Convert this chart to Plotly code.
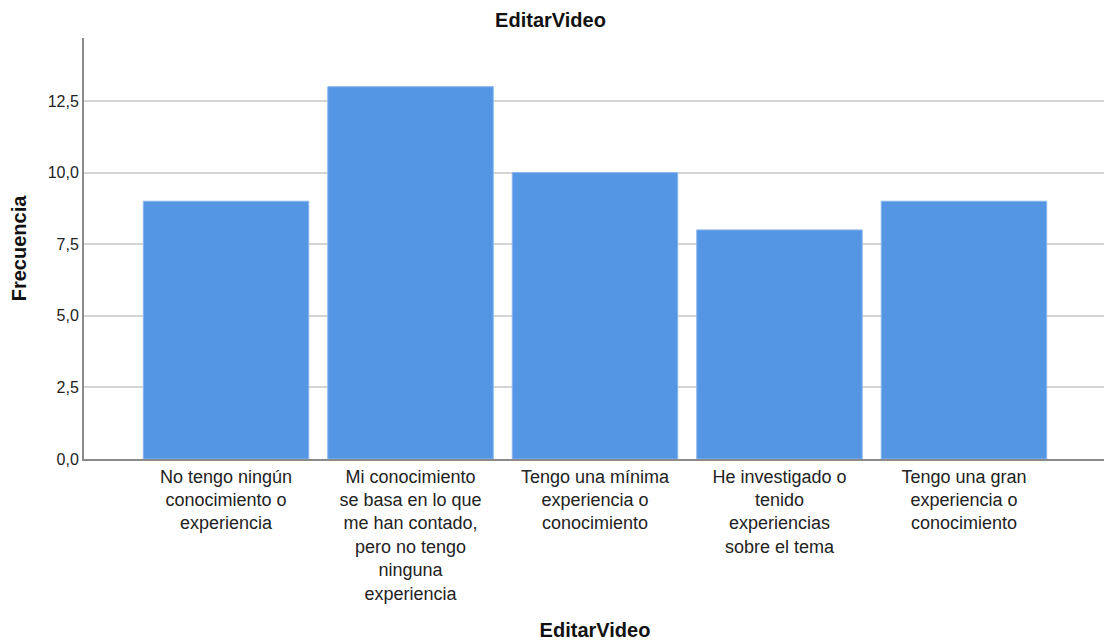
import plotly.graph_objects as go

categorias = [
    "No tengo ningún<br>conocimiento o<br>experiencia",
    "Mi conocimiento<br>se basa en lo que<br>me han contado,<br>pero no tengo<br>ninguna<br>experiencia",
    "Tengo una mínima<br>experiencia o<br>conocimiento",
    "He investigado o<br>tenido<br>experiencias<br>sobre el tema",
    "Tengo una gran<br>experiencia o<br>conocimiento",
]
frecuencia = [9, 13, 10, 8, 9]
ticks_y = [0, 2.5, 5, 7.5, 10, 12.5]

fig = go.Figure(go.Bar(
    x=categorias,
    y=frecuencia,
    marker=dict(color='#5596e4', line=dict(color='#8ab6ee', width=1)),
))

# la pagina tiene 8px de margen en el body, por eso 1104x635
fig.update_layout(
    width=1104,
    height=635,
    separators=',.',
    paper_bgcolor='white',
    plot_bgcolor='white',
    font=dict(family='Liberation Sans, Arial', color='#222222'),
    margin=dict(l=76, r=6, t=30, b=184),
    bargap=0.103,
    showlegend=False,
    title=dict(text='<b>EditarVideo</b>', x=0.4914, xanchor='center', y=0.981,
               yanchor='middle', font=dict(size=20, color='#111111')),
)

fig.update_xaxes(
    range=[-0.77, 4.77],
    showline=True, linecolor='#8a8a8a', linewidth=2,
    showgrid=False, ticks='', tickfont=dict(size=18, color='#222222'),
    tickangle=0,
    title=dict(text='<b>EditarVideo</b>', font=dict(size=20, color='#111111'), standoff=20),
)
fig.update_yaxes(
    range=[0, 14.7],
    tickvals=ticks_y, tickformat='.1f',
    showline=True, linecolor='#8a8a8a', linewidth=2,
    showgrid=True, gridcolor='#d4d4d4', gridwidth=2,
    zeroline=False, ticks='', tickfont=dict(size=16, color='#222222'),
    title=dict(text='<b>Frecuencia</b>', font=dict(size=20, color='#111111'), standoff=16),
)

fig.write_html("out.html")
